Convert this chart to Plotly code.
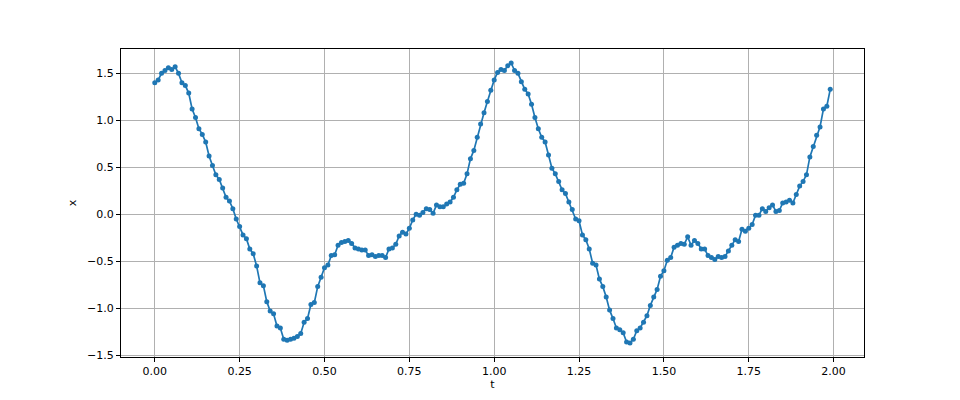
import plotly.graph_objects as go

t = [round(i * 0.01, 2) for i in range(200)]
x = [
    1.40, 1.43, 1.50, 1.53, 1.56, 1.54, 1.57, 1.50, 1.40, 1.37,
    1.29, 1.12, 1.03, 0.91, 0.85, 0.77, 0.62, 0.52, 0.42, 0.37,
    0.28, 0.18, 0.14, 0.06, -0.05, -0.13, -0.22, -0.26, -0.37, -0.42,
    -0.55, -0.73, -0.76, -0.93, -1.03, -1.06, -1.19, -1.21, -1.33, -1.34,
    -1.33, -1.32, -1.30, -1.27, -1.15, -1.11, -0.96, -0.94, -0.77, -0.67,
    -0.57, -0.54, -0.44, -0.43, -0.33, -0.30, -0.29, -0.28, -0.31, -0.36,
    -0.37, -0.38, -0.38, -0.44, -0.43, -0.45, -0.44, -0.44, -0.46, -0.37,
    -0.36, -0.32, -0.23, -0.19, -0.21, -0.15, -0.06, 0.00, -0.01, 0.02,
    0.06, 0.05, 0.01, 0.10, 0.08, 0.08, 0.11, 0.13, 0.18, 0.26,
    0.32, 0.33, 0.43, 0.59, 0.68, 0.82, 0.96, 1.08, 1.20, 1.32,
    1.43, 1.51, 1.54, 1.53, 1.58, 1.61, 1.53, 1.50, 1.41, 1.33,
    1.28, 1.17, 1.03, 0.91, 0.82, 0.77, 0.63, 0.49, 0.43, 0.35,
    0.26, 0.22, 0.13, 0.05, -0.05, -0.07, -0.22, -0.27, -0.37, -0.52,
    -0.54, -0.69, -0.77, -0.88, -1.02, -1.11, -1.21, -1.23, -1.26, -1.36,
    -1.37, -1.33, -1.24, -1.21, -1.15, -1.08, -0.97, -0.88, -0.80, -0.66,
    -0.60, -0.49, -0.46, -0.35, -0.33, -0.31, -0.32, -0.24, -0.33, -0.28,
    -0.31, -0.37, -0.37, -0.44, -0.46, -0.48, -0.45, -0.46, -0.45, -0.39,
    -0.33, -0.27, -0.29, -0.16, -0.18, -0.15, -0.11, -0.01, -0.01, 0.06,
    0.03, 0.07, 0.10, 0.03, 0.04, 0.12, 0.13, 0.15, 0.12, 0.21,
    0.30, 0.35, 0.42, 0.61, 0.72, 0.84, 0.93, 1.12, 1.15, 1.33,
]
x_ticks = [0.0, 0.25, 0.5, 0.75, 1.0, 1.25, 1.5, 1.75, 2.0]
y_ticks = [-1.5, -1.0, -0.5, 0.0, 0.5, 1.0, 1.5]

fig = go.Figure(go.Scatter(
    x=t, y=x, mode="lines+markers",
    line=dict(color="#1f77b4", width=1.7),
    marker=dict(color="#1f77b4", size=5),
))

pad_x = 0.05 * (max(t) - min(t))
pad_y = 0.05 * (max(x) - min(x))
axis_common = dict(
    showline=True, mirror=True, linecolor="black", linewidth=1,
    ticks="outside", ticklen=4, tickcolor="black", tickwidth=1,
    showgrid=True, gridcolor="#b0b0b0", gridwidth=1, zeroline=False,
    tickfont=dict(family="DejaVu Sans", size=11, color="black"),
)
fig.update_layout(
    width=960, height=400,
    margin=dict(l=113, r=104, t=41, b=51),
    paper_bgcolor="white", plot_bgcolor="white",
    showlegend=False,
    font=dict(family="DejaVu Sans", size=11, color="black"),
    xaxis=dict(
        range=[min(t) - pad_x, max(t) + pad_x],
        tickvals=x_ticks, ticktext=[f"{v:.2f}" for v in x_ticks],
        title=dict(text="t", standoff=2, font=dict(size=11)),
        automargin=False,
        **axis_common,
    ),
    yaxis=dict(
        range=[min(x) - pad_y, max(x) + pad_y],
        tickvals=y_ticks, ticktext=[f"{v:.1f}".replace("-", "\u2212") for v in y_ticks],
        title=dict(text="x", standoff=8, font=dict(size=11)),
        automargin=False,
        **axis_common,
    ),
)
fig.write_html("out.html")
